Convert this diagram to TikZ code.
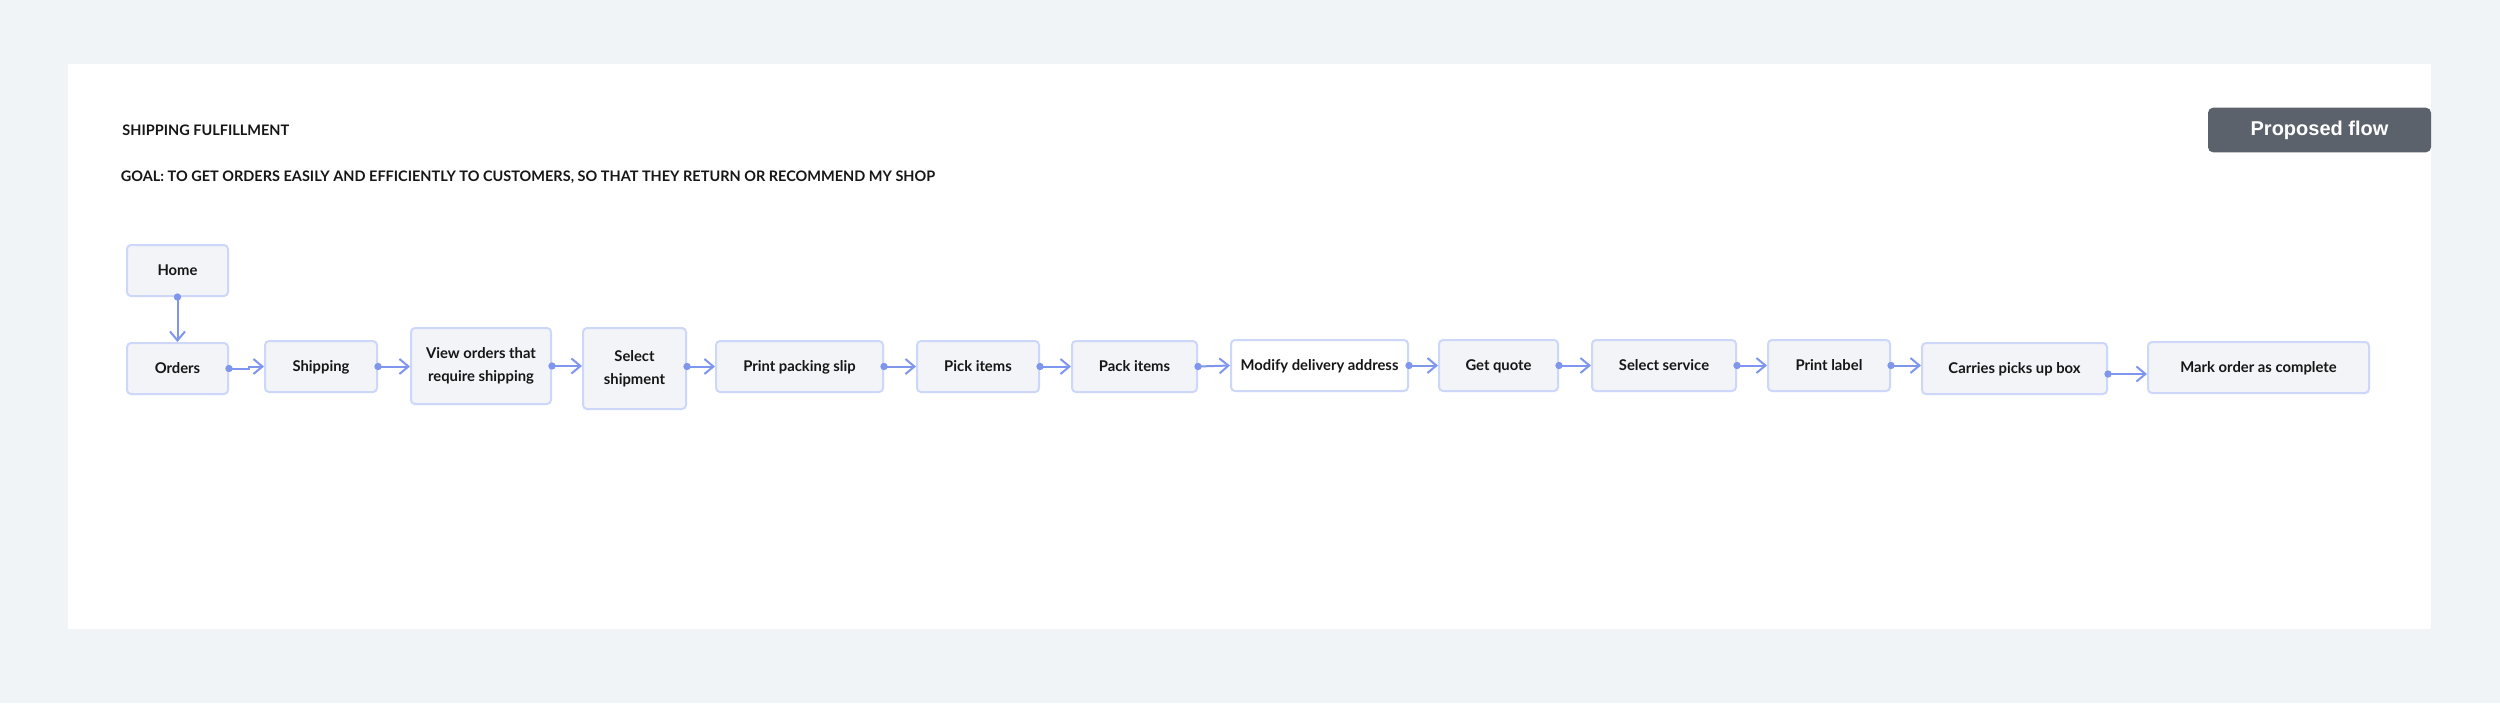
\documentclass[tikz,border=0pt]{standalone}
\usepackage{fontspec}
\setmainfont{Lato}
\newfontfamily\btnfont{Liberation Sans}
\usetikzlibrary{arrows.meta,calc}
\definecolor{bgc}{HTML}{F0F4F7}
\definecolor{boxfill}{HTML}{F3F4F8}
\definecolor{boxborder}{HTML}{CCD7FA}
\definecolor{flowc}{HTML}{7F96EE}
\definecolor{btnc}{HTML}{5C626B}
\definecolor{txt}{HTML}{161616}
\begin{document}
\begin{tikzpicture}[x=0.5pt,y=-0.5pt,
  box/.style={draw=boxborder, fill=boxfill, line width=1pt, rounded corners=2pt,
    inner sep=0pt, minimum height=25.5pt, text=txt,
    font=\bfseries\fontsize{7.4}{11.5}\selectfont, text height=5.4pt, text depth=0pt},
  boxtwo/.style={draw=boxborder, fill=boxfill, line width=1pt, rounded corners=2pt,
    inner sep=0pt, text=txt, align=center,
    font=\bfseries\fontsize{7.4}{11.5}\selectfont},
  bw/.style={minimum width=#1*0.5pt},
  bh/.style={minimum height=#1*0.5pt},
  flow/.style={draw=flowc, line width=1pt,
    {Circle[length=3.6pt]}-{Straight Barb[length=4.5pt,width=7.5pt]}, shorten <=-1.8pt},
  btn/.style={fill=btnc, rounded corners=2.5pt, inner sep=0pt,
    minimum width=111.5pt, minimum height=22.3pt, text=white,
    font=\btnfont\bfseries\fontsize{10}{12}\selectfont},
  heading/.style={anchor=base west, inner sep=0pt, text=txt,
    font=\bfseries\fontsize{7.25}{9}\selectfont}
]
\useasboundingbox (0,0) rectangle (2500,703);
\fill[bgc] (0,0) rectangle (2500,703);
\fill[white] (68,64) rectangle (2431,629);

\node[heading] (title) at (122,135.3) {SHIPPING FULFILLMENT};
\node[heading] (goal) at (120.5,181.7) {GOAL: TO GET ORDERS EASILY AND EFFICIENTLY TO CUSTOMERS, SO THAT THEY RETURN OR RECOMMEND MY SHOP};
\node[btn] (pf) at (2319.5,130) {Proposed flow};

\node[box, bw=101] (home) at (177.5,270.5) {Home};
\node[box, bw=101] (orders) at (177.5,368.5) {Orders};
\node[box, bw=112] (shipping) at (321,366.5) {Shipping};
\node[boxtwo, bw=140, bh=76] (view) at (481,366) {View orders that\\require shipping};
\node[boxtwo, bw=103, bh=81] (selship) at (634.5,368.5) {Select\\shipment};
\node[box, bw=167] (packslip) at (799.5,366.5) {Print packing slip};
\node[box, bw=122] (pick) at (978,366.5) {Pick items};
\node[box, bw=125] (pack) at (1134.5,366.5) {Pack items};
\node[box, bw=177, fill=white] (modify) at (1319.5,365.5) {Modify delivery address};
\node[box, bw=119] (quote) at (1498.5,365.5) {Get quote};
\node[box, bw=144] (service) at (1664,365.5) {Select service};
\node[box, bw=122] (label) at (1829,365.5) {Print label};
\node[box, bw=185] (carrier) at (2014.5,368.5) {Carries picks up box};
\node[box, bw=221] (mark) at (2258.5,367.5) {Mark order as complete};

\draw[flow] (home.south) -- (orders.north);
\draw[flow] (orders.east) -- ++(20,0) |- (shipping.west);
\draw[flow] (shipping.east) -- (shipping.east -| view.west);
\draw[flow] (view.east) -- (view.east -| selship.west);
\draw[flow] (selship.east |- packslip.west) -- (packslip.west);
\draw[flow] (packslip.east) -- (pick.west);
\draw[flow] (pick.east) -- (pack.west);
\draw[flow] (pack.east) -- (modify.west);
\draw[flow] (modify.east) -- (quote.west);
\draw[flow] (quote.east) -- (service.west);
\draw[flow] (service.east) -- (label.west);
\draw[flow] (label.east) -- (label.east -| carrier.west);
\draw[flow] ([yshift=-2.75pt]carrier.east) -- ([yshift=-2.75pt]carrier.east -| mark.west);
\end{tikzpicture}
\end{document}
